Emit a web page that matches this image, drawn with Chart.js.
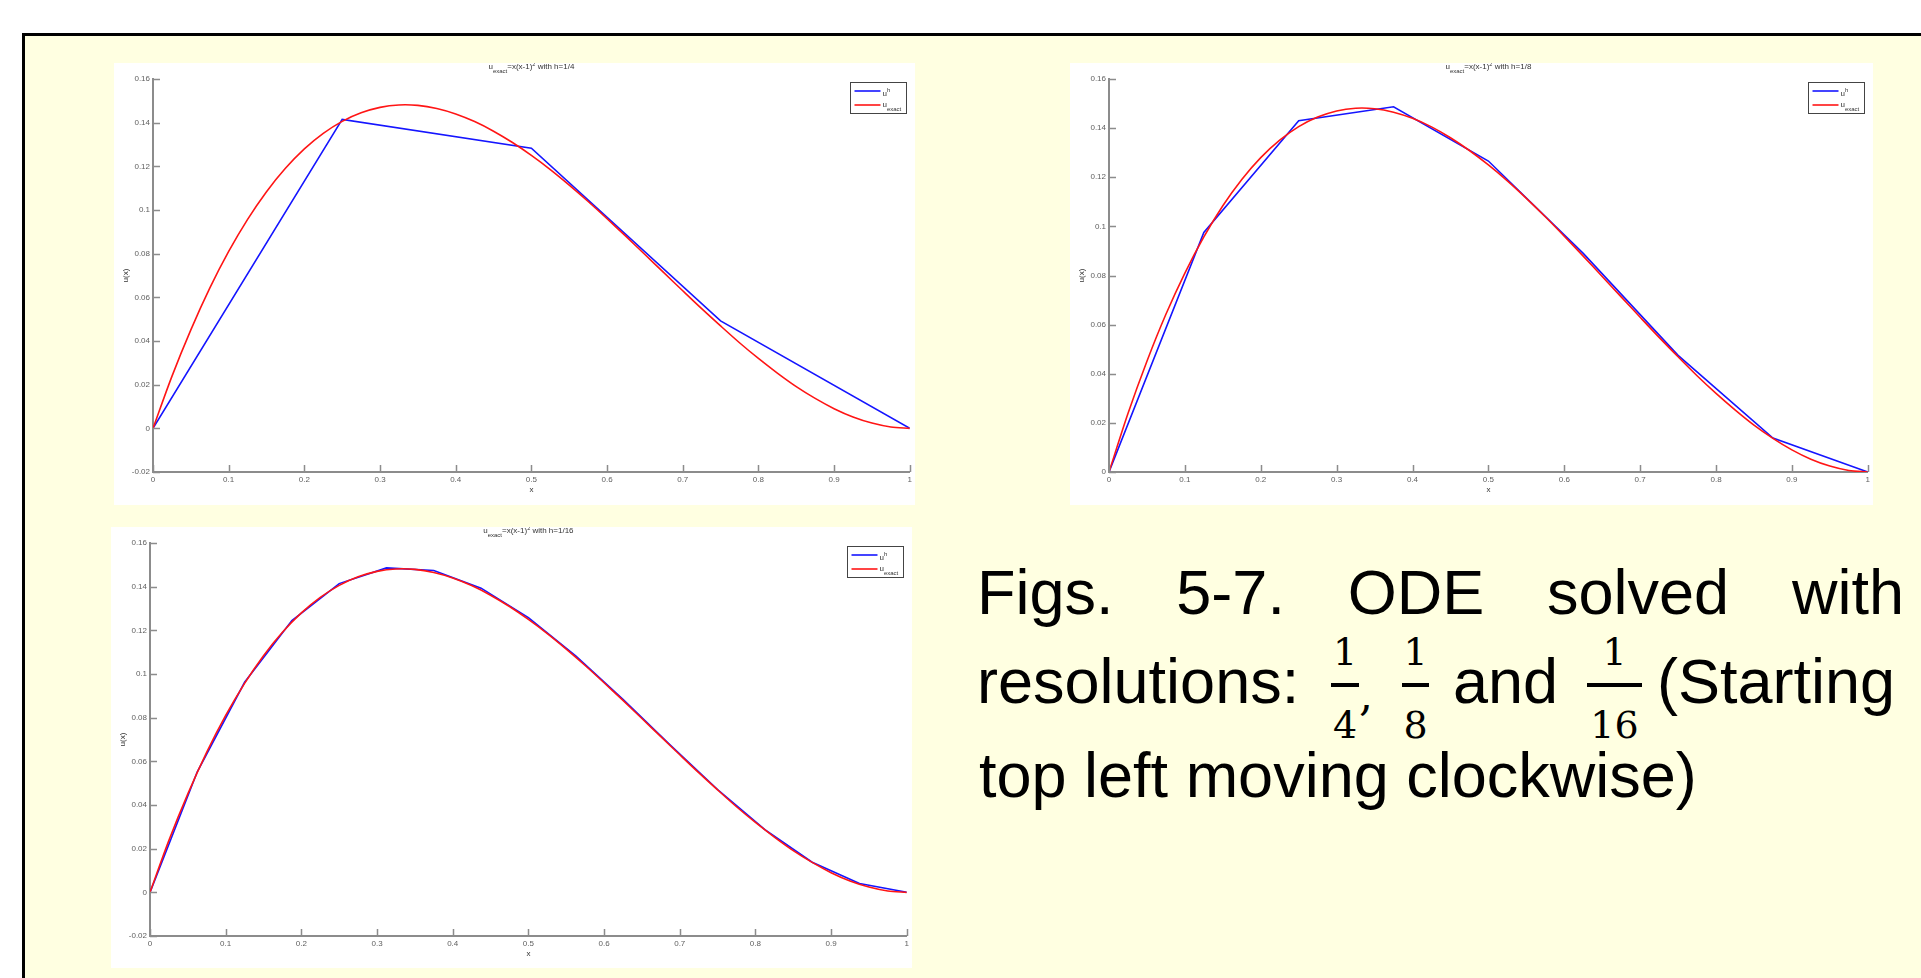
<!DOCTYPE html>
<html>
<head>
<meta charset="utf-8">
<script src="https://cdn.jsdelivr.net/npm/chart.js@4.4.1/dist/chart.umd.min.js"></script>
<style>
  html, body { margin: 0; padding: 0; background: #fff; width: 1921px; height: 978px; overflow: hidden; }
  #panel { position: absolute; left: 22px; top: 33px; right: -10px; bottom: -10px; background: #ffffe1;
           border-top: 3px solid #000; border-left: 3px solid #000; }
  canvas { position: absolute; background: #fff; }
  .txt { position: absolute; font-family: 'Liberation Sans', Arial, sans-serif; font-size: 63px; line-height: 63px;
         color: #000; white-space: nowrap; }
  .fr { position: absolute; font-family: 'DejaVu Serif', serif; font-size: 38px; line-height: 38px;
        text-align: center; color: #000; }
  .bar { position: absolute; height: 4px; background: #000; }
</style>
</head>
<body>
<div id="panel"></div>

<canvas id="c1" width="801" height="442" style="left:114px;top:63px"></canvas>
<canvas id="c2" width="803" height="442" style="left:1070px;top:63px"></canvas>
<canvas id="c3" width="801" height="441" style="left:111px;top:527px"></canvas>

<div class="txt" style="left:977px;top:561px;width:927px;text-align:justify;text-align-last:justify;white-space:normal">Figs. 5-7. ODE solved with</div>

<div class="txt" style="left:977px;top:650px">resolutions:</div>
<div class="fr" style="left:1331px;top:633px;width:28px">1</div>
<div class="bar" style="left:1331px;top:683px;width:28px"></div>
<div class="fr" style="left:1331px;top:706px;width:28px">4</div>
<div class="fr" style="left:1359px;top:676px;width:14px;font-size:44px">,</div>
<div class="fr" style="left:1402px;top:633px;width:27px">1</div>
<div class="bar" style="left:1402px;top:683px;width:27px"></div>
<div class="fr" style="left:1402px;top:706px;width:27px">8</div>
<div class="txt" style="left:1453px;top:650px">and</div>
<div class="fr" style="left:1587px;top:633px;width:55px">1</div>
<div class="bar" style="left:1587px;top:683px;width:55px"></div>
<div class="fr" style="left:1587px;top:706px;width:55px">16</div>
<div class="txt" style="left:1657px;top:650px">(Starting</div>

<div class="txt" style="left:979px;top:744px">top left moving clockwise)</div>

<script>
// exact solution
const xFine = [0, 0.025, 0.05, 0.075, 0.1, 0.125, 0.15, 0.175, 0.2, 0.225, 0.25, 0.275, 0.3, 0.325, 0.35,
  0.375, 0.4, 0.425, 0.45, 0.475, 0.5, 0.525, 0.55, 0.575, 0.6, 0.625, 0.65, 0.675, 0.7, 0.725, 0.75,
  0.775, 0.8, 0.825, 0.85, 0.875, 0.9, 0.925, 0.95, 0.975, 1];
const uExact = [0, 0.0238, 0.0451, 0.0642, 0.081, 0.0957, 0.1084, 0.1191, 0.128, 0.1351, 0.1406, 0.1445,
  0.147, 0.1481, 0.1479, 0.1465, 0.144, 0.1405, 0.1361, 0.1309, 0.125, 0.1185, 0.1114, 0.1039, 0.096,
  0.0879, 0.0796, 0.0713, 0.063, 0.0548, 0.0469, 0.0392, 0.032, 0.0253, 0.0191, 0.0137, 0.009, 0.0052,
  0.0024, 0.0006, 0];

// numerical solutions (blue)
const xH4 = [0, 0.25, 0.5, 0.75, 1];
const uH4 = [0, 0.1415, 0.1283, 0.0492, 0];

const xH8 = [0, 0.125, 0.25, 0.375, 0.5, 0.625, 0.75, 0.875, 1];
const uH8 = [0, 0.0975, 0.143, 0.1487, 0.1266, 0.089, 0.0475, 0.0138, 0];

const xH16 = [0, 0.0625, 0.125, 0.1875, 0.25, 0.3125, 0.375, 0.4375, 0.5, 0.5625, 0.625, 0.6875, 0.75,
  0.8125, 0.875, 0.9375, 1];
const uH16 = [0, 0.0552, 0.0962, 0.1245, 0.1414, 0.1486, 0.1474, 0.1393, 0.1258, 0.1083, 0.0884, 0.0675,
  0.0471, 0.0287, 0.0138, 0.004, 0];

const titles = ['h=1/4', 'h=1/8', 'h=1/16'];

Chart.defaults.font.family = "'Liberation Sans', Arial, sans-serif";

const toPts = (xs, ys) => xs.map((x, i) => ({ x: x, y: ys[i] }));

// matlab look: inward ticks, title with subscripts, axis labels, boxed legend
const matlabPlugin = {
  id: 'matlab',
  afterDraw(chart, args, opts) {
    const { ctx, chartArea: { left, right, top, bottom }, scales: { x, y } } = chart;
    ctx.save();

    ctx.strokeStyle = '#8c8c8c';
    ctx.lineWidth = 1.5;
    ctx.beginPath();
    y.ticks.forEach((t) => {
      const py = Math.round(y.getPixelForValue(t.value)) + 0.5;
      ctx.moveTo(left, py);
      ctx.lineTo(left + 7, py);
    });
    x.ticks.forEach((t) => {
      const px = Math.round(x.getPixelForValue(t.value)) + 0.5;
      ctx.moveTo(px, bottom);
      ctx.lineTo(px, bottom - 7);
    });
    ctx.stroke();

    const font = (s) => s + "px 'Liberation Sans', Arial, sans-serif";
    const drawParts = (parts, x0, base) => {
      let cx = x0;
      parts.forEach(([t, s, dy]) => {
        ctx.font = font(s);
        ctx.fillText(t, cx, base + dy);
        cx += ctx.measureText(t).width;
      });
    };
    const widthOf = (parts) => parts.reduce((w, [t, s]) => {
      ctx.font = font(s);
      return w + ctx.measureText(t).width;
    }, 0);

    // title
    ctx.fillStyle = '#333';
    ctx.textBaseline = 'alphabetic';
    ctx.textAlign = 'left';
    const tParts = [['u', 8, 0], ['exact', 6, 3.5], ['=x(x-1)', 8, 0], ['2', 5.5, -3], [' with ' + opts.title, 8, 0]];
    drawParts(tParts, (left + right) / 2 - widthOf(tParts) / 2, top - 10);

    // axis labels
    ctx.font = font(8);
    ctx.textAlign = 'center';
    ctx.textBaseline = 'middle';
    ctx.fillText('x', (left + right) / 2, bottom + 18);
    ctx.save();
    ctx.translate(left - 27, (top + bottom) / 2);
    ctx.rotate(-Math.PI / 2);
    ctx.fillText('u(x)', 0, 0);
    ctx.restore();

    // legend
    const bw = 56, bh = 31;
    const bx = Math.round(right - 4 - bw) + 0.5, by = Math.round(top + 3) + 0.5;
    ctx.fillStyle = '#fff';
    ctx.fillRect(bx, by, bw, bh);
    ctx.strokeStyle = '#444';
    ctx.lineWidth = 1;
    ctx.strokeRect(bx, by, bw, bh);
    chart.data.datasets.forEach((ds, i) => {
      const ly = by + (i === 0 ? 8.5 : 22.5);
      ctx.strokeStyle = ds.borderColor;
      ctx.lineWidth = 1.6;
      ctx.beginPath();
      ctx.moveTo(bx + 4, ly);
      ctx.lineTo(bx + 30, ly);
      ctx.stroke();
    });
    ctx.fillStyle = '#333';
    ctx.textAlign = 'left';
    ctx.textBaseline = 'alphabetic';
    drawParts([['u', 8, 0], ['h', 6, -4]], bx + 32, by + 13.5);
    drawParts([['u', 8, 0], ['exact', 6, 3.5]], bx + 32, by + 24.5);

    ctx.restore();
  },
};

function makeChart(id, xs, us, yMin, title, padRight, axisH) {
  return new Chart(document.getElementById(id), {
    type: 'line',
    data: {
      datasets: [
        { label: 'u^h', data: toPts(xs, us), borderColor: '#1515ff', borderWidth: 1.6, pointRadius: 0, order: 1 },
        { label: 'u_exact', data: toPts(xFine, uExact), borderColor: '#ff1515', borderWidth: 1.6, pointRadius: 0,
          tension: 0.3, order: 0 },
      ],
    },
    options: {
      responsive: false,
      animation: false,
      devicePixelRatio: 1,
      layout: { padding: { top: 16, right: padRight, left: 0, bottom: 0 } },
      plugins: {
        legend: { display: false },
        tooltip: { enabled: false },
        matlab: { title: title },
      },
      scales: {
        x: {
          type: 'linear',
          min: 0,
          max: 1,
          grid: { display: false, drawTicks: false },
          border: { color: '#8c8c8c', width: 2 },
          ticks: {
            stepSize: 0.1,
            padding: 3,
            color: '#606060',
            font: { size: 8 },
            autoSkip: false,
            maxRotation: 0,
            callback: (v) => String(Math.round(v * 10) / 10),
          },
          afterFit: (s) => { s.height = axisH; },
        },
        y: {
          type: 'linear',
          min: yMin,
          max: 0.16,
          grid: { display: false, drawTicks: false },
          border: { color: '#8c8c8c', width: 2 },
          ticks: {
            stepSize: 0.02,
            padding: 3,
            color: '#606060',
            font: { size: 8 },
            autoSkip: false,
            callback: (v) => String(Math.round(v * 100) / 100),
          },
          afterFit: (s) => { s.width = 39; },
        },
      },
    },
    plugins: [matlabPlugin],
  });
}

makeChart('c1', xH4, uH4, -0.02, titles[0], 3, 33);
makeChart('c2', xH8, uH8, 0, titles[1], 5, 33);
makeChart('c3', xH16, uH16, -0.02, titles[2], 3, 32);
</script>
</body>
</html>
